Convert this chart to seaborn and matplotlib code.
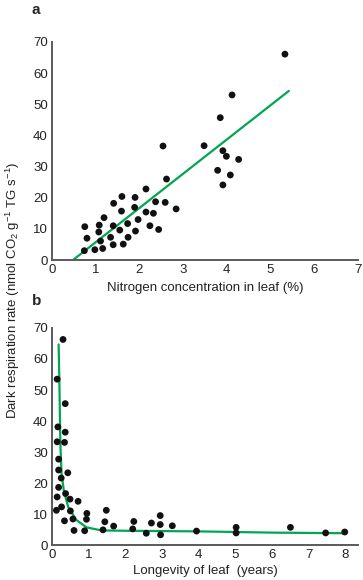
import numpy as np
import pandas as pd
import seaborn as sns
import matplotlib.pyplot as plt

# Panel a: nitrogen concentration vs dark respiration
nitrogen = [5.33, 4.12, 3.85, 2.54, 3.48, 3.91, 3.99, 4.27, 3.79, 4.08, 3.91, 2.62,
            2.15, 1.60, 1.90, 1.41, 2.37, 2.59, 2.84, 1.59, 1.89, 2.15, 2.32, 1.19,
            1.97, 1.73, 1.08, 1.40, 0.75, 2.24, 1.55, 2.44, 1.07, 1.91, 0.80, 1.34,
            1.74, 1.11, 1.40, 1.63, 1.16, 0.98, 0.74]
resp_a = [66.1, 53.0, 45.7, 36.6, 36.7, 35.1, 33.3, 32.3, 28.8, 27.3, 24.1, 26.0,
          22.8, 20.4, 20.1, 18.2, 18.7, 18.5, 16.4, 15.7, 16.9, 15.4, 15.0, 13.6,
          13.0, 11.7, 11.2, 11.0, 10.7, 11.0, 9.6, 9.8, 9.0, 9.3, 7.0, 7.3,
          7.3, 6.1, 4.9, 5.1, 3.7, 3.3, 3.0]
fit_a_x = [0.48, 5.42]
fit_a_y = [0.0, 54.3]

# Panel b: leaf longevity vs dark respiration
longevity = [0.30, 0.14, 0.36, 0.16, 0.36, 0.14, 0.34, 0.18, 0.18, 0.43, 0.25, 0.18,
             0.37, 0.14, 0.49, 0.71, 0.26, 0.12, 0.50, 0.95, 1.48, 0.34, 0.57, 0.94,
             1.44, 0.60, 0.89, 1.39, 1.68, 2.23, 2.20, 2.57, 2.71, 2.95, 2.95, 2.96,
             3.28, 3.94, 5.02, 5.02, 6.50, 7.46, 7.98]
resp_b = [66.3, 53.5, 45.6, 38.1, 36.4, 33.3, 33.1, 27.7, 24.2, 23.3, 21.6, 18.6,
          16.6, 15.5, 14.8, 14.1, 12.3, 11.2, 11.0, 10.2, 11.2, 7.8, 8.4, 8.3,
          7.5, 4.7, 4.6, 4.9, 6.1, 7.6, 5.2, 3.8, 7.1, 9.5, 6.6, 3.3,
          6.2, 4.5, 5.7, 3.9, 5.7, 3.9, 4.2]
fit_b_x = [0.18, 0.20, 0.21, 0.22, 0.23, 0.26, 0.32, 0.44, 0.66, 0.94, 1.35, 2.0,
           3.0, 4.0, 5.0, 6.0, 7.0, 8.0]
fit_b_y = [64.7, 53.0, 45.6, 37.0, 31.7, 23.1, 17.7, 12.3, 8.1, 5.7, 4.7, 4.6,
           4.5, 4.4, 4.2, 4.0, 3.9, 3.8]

sns.set_style('white')
plt.rcParams['font.family'] = ['Liberation Sans', 'DejaVu Sans']
plt.rcParams['mathtext.default'] = 'regular'

dot_color = '#111111'
green = '#00a651'
spine_color = '#5a5a5a'
txt = '#222222'

fig = plt.figure(figsize=(3.63, 5.8), dpi=100)
ax_a = fig.add_axes([0.1433, 0.5517, 0.8427, 0.3759])
ax_b = fig.add_axes([0.1433, 0.0603, 0.8427, 0.3742])

df_a = pd.DataFrame({'n': nitrogen, 'r': resp_a})
df_b = pd.DataFrame({'l': longevity, 'r': resp_b})

sns.lineplot(x=fit_a_x, y=fit_a_y, color=green, lw=1.6, ax=ax_a, sort=False, estimator=None)
sns.scatterplot(data=df_a, x='n', y='r', color=dot_color, s=24, edgecolor='none', ax=ax_a, zorder=3)

sns.lineplot(x=fit_b_x, y=fit_b_y, color=green, lw=1.6, ax=ax_b, sort=False, estimator=None)
sns.scatterplot(data=df_b, x='l', y='r', color=dot_color, s=24, edgecolor='none', ax=ax_b, zorder=3)

ax_a.set_xlim(0, 7)
ax_a.set_xticks(range(0, 8))
ax_b.set_xlim(0, 8.34)
ax_b.set_xticks(range(0, 9))

for ax in (ax_a, ax_b):
    ax.set_ylim(0, 70)
    ax.set_yticks(range(0, 80, 10))
    sns.despine(ax=ax)
    for side in ('left', 'bottom'):
        ax.spines[side].set_color(spine_color)
        ax.spines[side].set_linewidth(1.4)
    ax.tick_params(direction='in', length=4, width=1, color=spine_color,
                   labelsize=9.5, labelcolor=txt, pad=3)
    ax.set_ylabel('')

ax_a.set_xlabel('Nitrogen concentration in leaf (%)', fontsize=9.5, color=txt, labelpad=4)
ax_b.set_xlabel('Longevity of leaf  (years)', fontsize=9.5, color=txt, labelpad=3)

fig.text(0.088, 0.983, 'a', fontsize=11, fontweight='bold', va='center', ha='left')
fig.text(0.088, 0.481, 'b', fontsize=11, fontweight='bold', va='center', ha='left')
fig.text(0.036, 0.5, r'Dark respiration rate (nmol CO$_2$ g$^{-1}$ TG s$^{-1}$)',
         rotation=90, fontsize=9.5, color=txt, ha='center', va='center')

fig.savefig('out.png', dpi=100)
